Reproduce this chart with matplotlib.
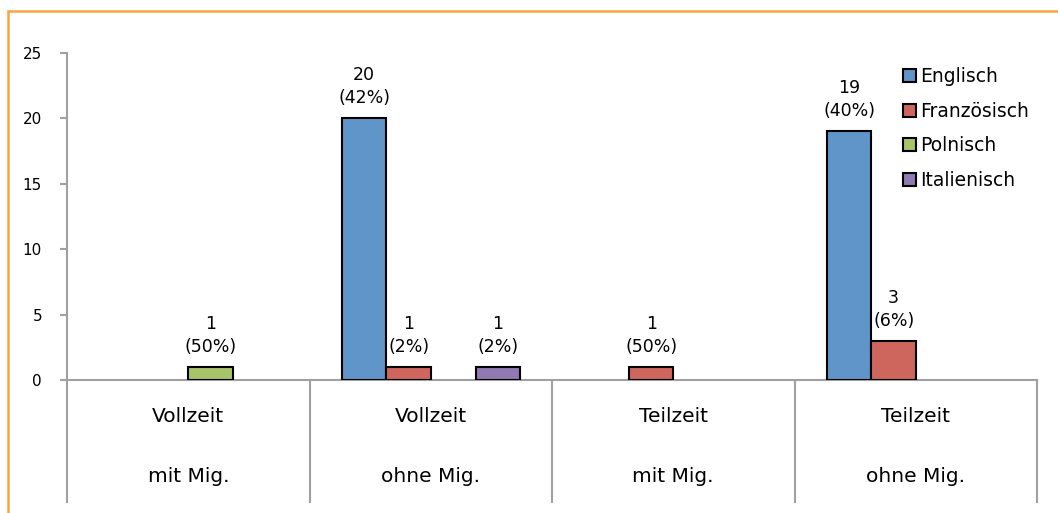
import matplotlib
matplotlib.use("Agg")
import matplotlib.pyplot as plt
from matplotlib.patches import Rectangle
import numpy as np

groups_top = ["Vollzeit", "Vollzeit", "Teilzeit", "Teilzeit"]
groups_bottom = ["mit Mig.", "ohne Mig.", "mit Mig.", "ohne Mig."]
languages = ["Englisch", "Französisch", "Polnisch", "Italienisch"]
englisch = [0, 20, 0, 19]
franzoesisch = [0, 1, 1, 3]
polnisch = [1, 0, 0, 0]
italienisch = [0, 1, 0, 0]
pct_englisch = [0, 42, 0, 40]
pct_franzoesisch = [0, 2, 50, 6]
pct_polnisch = [50, 0, 0, 0]
pct_italienisch = [0, 2, 0, 0]
y_ticks = [0, 5, 10, 15, 20, 25]

colors = ["#5F95C9", "#CF665E", "#A7C46A", "#9179B2"]
series = [englisch, franzoesisch, polnisch, italienisch]
pcts = [pct_englisch, pct_franzoesisch, pct_polnisch, pct_italienisch]

W, H = 1058, 513
fig = plt.figure(figsize=(W / 100, H / 100), dpi=100)
x0, x1, y0, y1 = 67, 1037, 380, 53
ax = fig.add_axes([x0 / W, 1 - y0 / H, (x1 - x0) / W, (y0 - y1) / H])

grey = "#A0A0A0"
bw = 0.184
first = 0.225
for k, (vals, pc) in enumerate(zip(series, pcts)):
    xs = np.arange(len(vals)) + first + k * bw
    v = np.array(vals, dtype=float)
    m = v > 0
    ax.bar(xs[m], v[m], width=bw, color=colors[k], edgecolor="black",
           linewidth=1.5, label=languages[k], zorder=3)
    for x, val, p in zip(xs[m], v[m], np.array(pc)[m]):
        ax.annotate(f"{int(val)}\n({int(p)}%)", (x, val), xytext=(0, 8),
                    textcoords="offset points", ha="center", va="bottom",
                    fontsize=12.5, linespacing=1.35)

ax.set_xlim(0, len(groups_top))
ax.set_ylim(0, 25)
ax.set_yticks(y_ticks)
ax.set_xticks([])
ax.tick_params(axis="y", length=5, color=grey, width=1.5, labelsize=11, pad=13)
for s in ["top", "right"]:
    ax.spines[s].set_visible(False)
ax.spines["left"].set_color(grey)
ax.spines["left"].set_linewidth(1.5)
ax.spines["bottom"].set_color(grey)
ax.spines["bottom"].set_linewidth(1.5)

# category separators below the axis
sep_bottom = -(502 - y0) / (y0 - y1) * 25
for i in range(len(groups_top) + 1):
    ax.plot([i, i], [0, sep_bottom], color=grey, lw=1.5, clip_on=False, zorder=1)
for i, (t, b) in enumerate(zip(groups_top, groups_bottom)):
    ax.text(i + 0.5, -(416 - y0) / (y0 - y1) * 25, t, ha="center", va="center",
            fontsize=14.5)
    ax.text(i + 0.5, -(476 - y0) / (y0 - y1) * 25, b, ha="center", va="center",
            fontsize=14.5)

leg = ax.legend(loc="upper left", bbox_to_anchor=(903 / W, 1 - 67 / H),
                bbox_transform=fig.transFigure, frameon=False, fontsize=13.5,
                handlelength=0.7, handleheight=0.7, handletextpad=0.2,
                labelspacing=0.84, borderaxespad=0, borderpad=0)
for h in leg.legend_handles:
    h.set_linewidth(1.5)

fig.patches.append(Rectangle((8 / W, -0.1), 1.2, 1 - 10.5 / H + 0.1,
                             transform=fig.transFigure, fill=False,
                             edgecolor="#F7A643", linewidth=1.8))

fig.savefig("out.png", dpi=100)
